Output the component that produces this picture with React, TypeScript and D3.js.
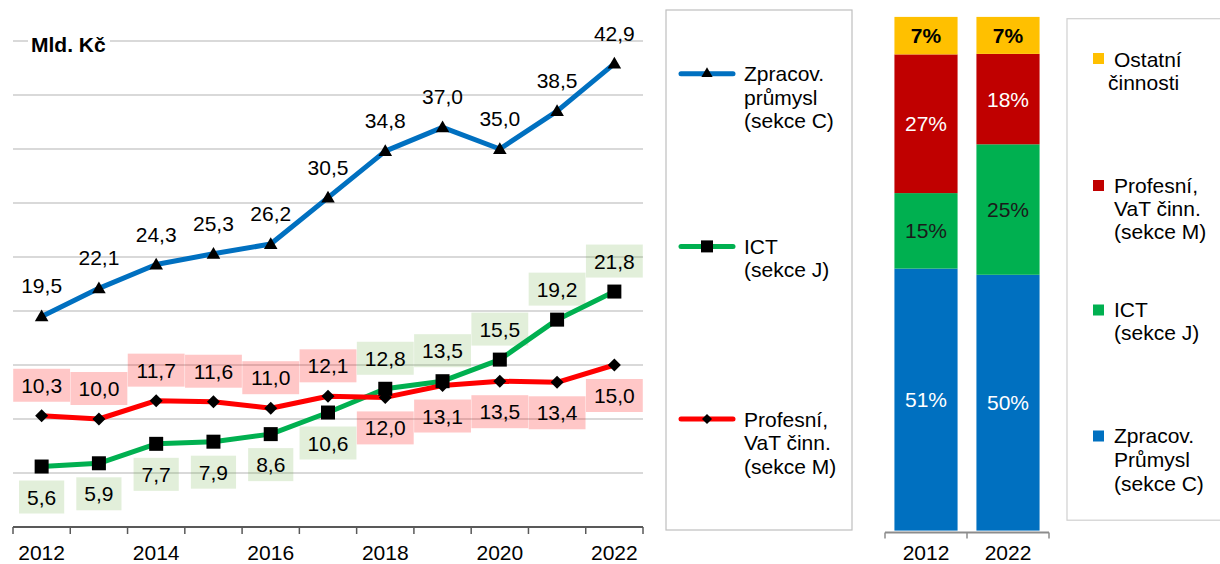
import React from "react";
import * as d3 from "d3";

const years = [2012, 2013, 2014, 2015, 2016, 2017, 2018, 2019, 2020, 2021, 2022];
const tickYears = [2012, 2014, 2016, 2018, 2020, 2022];
const manufacturing = [19.5, 22.1, 24.3, 25.3, 26.2, 30.5, 34.8, 37.0, 35.0, 38.5, 42.9];
const ict = [5.6, 5.9, 7.7, 7.9, 8.6, 10.6, 12.8, 13.5, 15.5, 19.2, 21.8];
const professional = [10.3, 10.0, 11.7, 11.6, 11.0, 12.1, 12.0, 13.1, 13.5, 13.4, 15.0];
const yGridValues = [5, 10, 15, 20, 25, 30, 35, 40, 45];

const shareYears = ["2012", "2022"];
const shareManufacturing = [51.0, 49.8];
const shareICT = [14.7, 25.4];
const shareProfessional = [27.0, 17.6];
const shareOther = [7.3, 7.2];

const FONT = '"Liberation Sans", Arial, Helvetica, sans-serif';
const FS = 21;

const fmt = (v: number) => v.toFixed(1).replace(".", ",");
const textW = (s: string) => {
  let w = 0;
  for (const ch of s) w += ch === "," ? 0.278 : 0.556;
  return w * FS;
};

export default function App() {
  const x = d3.scaleBand<number>().domain(years).range([13, 643]);
  const cx = (yr: number) => (x(yr) as number) + x.bandwidth() / 2;
  const y = d3.scaleLinear().domain([0, 45]).range([527, 41]);
  const line = d3
    .line<number>()
    .x((_, i) => cx(years[i]))
    .y((v) => y(v));

  const xb = d3.scaleBand<string>().domain(shareYears).range([885, 1049]).paddingInner(0.23).paddingOuter(0.115);
  const yb = d3.scaleLinear().domain([0, 100]).range([530.6, 16.9]);

  const stackData = shareYears.map((yr, i) => ({
    year: yr,
    c: shareManufacturing[i],
    j: shareICT[i],
    m: shareProfessional[i],
    o: shareOther[i],
  }));
  const keys = ["c", "j", "m", "o"];
  const stack = d3.stack<any>().keys(keys)(stackData);
  const segColors: Record<string, string> = { c: "#0070c0", j: "#00b050", m: "#c00000", o: "#ffc000" };
  const segText: Record<string, string> = { c: "#ffffff", j: "#1a1a1a", m: "#ffffff", o: "#000000" };

  const label = (key: string, v: number, i: number, dir: number, bg: string | null) => {
    const px = cx(years[i]);
    const py = y(v) + dir * 30.5;
    const s = fmt(v);
    const w = textW(s) + 16;
    return (
      <g key={key}>
        {bg && <rect x={px - w / 2} y={py - 16.5} width={w} height={33} fill={bg} />}
        <text x={px} y={py + 7.5} textAnchor="middle" fontSize={FS} fill="#000">
          {s}
        </text>
      </g>
    );
  };

  const triangle = d3.symbol().type(d3.symbolTriangle).size(80)();
  const square = d3.symbol().type(d3.symbolSquare).size(196)();
  const diamond = (s: number) => `M0,${-s}L${s},0L0,${s}L${-s},0Z`;

  return (
    <svg
      width={1220}
      height={564}
      style={{ position: "absolute", left: 0, top: 0, background: "#fff" }}
      fontFamily={FONT}
    >
      <rect width={1220} height={564} fill="#fff" />
      {yGridValues.map((g) => (
        <line key={g} x1={13} x2={643} y1={y(g)} y2={y(g)} stroke="#d9d9d9" strokeWidth={1.8} />
      ))}
      <rect x={28} y={30} width={82} height={24} fill="#fff" />
      <text x={31} y={52} fontSize={FS} fontWeight="bold">
        Mld. Kč
      </text>
      <line x1={13} x2={643} y1={527} y2={527} stroke="#595959" strokeWidth={2} />
      {years.map((yr) => (
        <line key={yr} x1={x(yr)} x2={x(yr)} y1={527} y2={534} stroke="#595959" strokeWidth={1.5} />
      ))}
      <line x1={643} x2={643} y1={527} y2={534} stroke="#595959" strokeWidth={1.5} />
      {tickYears.map((yr) => (
        <text key={yr} x={cx(yr)} y={559.5} textAnchor="middle" fontSize={FS}>
          {yr}
        </text>
      ))}

      {professional.map((v, i) => label("pl" + i, v, i, i <= 5 ? -1 : 1, "rgba(255,0,0,0.22)"))}
      {ict.map((v, i) => label("il" + i, v, i, i <= 5 ? 1 : -1, "rgba(112,173,71,0.2)"))}

      <path d={line(ict) as string} fill="none" stroke="#00b050" strokeWidth={5} strokeLinejoin="round" />
      <path d={line(professional) as string} fill="none" stroke="#ff0000" strokeWidth={5} strokeLinejoin="round" />
      <path d={line(manufacturing) as string} fill="none" stroke="#0070c0" strokeWidth={5} strokeLinejoin="round" />

      {ict.map((v, i) => (
        <path key={"is" + i} d={square as string} transform={`translate(${cx(years[i])},${y(v)})`} fill="#000" />
      ))}
      {professional.map((v, i) => (
        <path key={"pd" + i} d={diamond(6.5)} transform={`translate(${cx(years[i])},${y(v)})`} fill="#000" />
      ))}
      {manufacturing.map((v, i) => (
        <path key={"mt" + i} d={triangle as string} transform={`translate(${cx(years[i])},${y(v) + 1})`} fill="#000" />
      ))}
      {manufacturing.map((v, i) => label("ml" + i, v, i, -1, null))}

      {/* left legend */}
      <rect x={666} y={10} width={186} height={520} fill="none" stroke="#bfbfbf" strokeWidth={1.2} />
      <line x1={681} x2={733} y1={73.7} y2={73.7} stroke="#0070c0" strokeWidth={5} strokeLinecap="round" />
      <path d={d3.symbol().type(d3.symbolTriangle).size(55)() as string} transform="translate(707,73.7)" fill="#000" />
      <text fontSize={FS}>
        <tspan x={744} y={81}>Zpracov.</tspan>
        <tspan x={744} y={104.5}>průmysl</tspan>
        <tspan x={744} y={128}>(sekce C)</tspan>
      </text>
      <line x1={681} x2={733} y1={246.4} y2={246.4} stroke="#00b050" strokeWidth={5} strokeLinecap="round" />
      <rect x={701} y={240.4} width={12} height={12} fill="#000" />
      <text fontSize={FS}>
        <tspan x={744} y={253.7}>ICT</tspan>
        <tspan x={744} y={277.2}>(sekce J)</tspan>
      </text>
      <line x1={681} x2={733} y1={419} y2={419} stroke="#ff0000" strokeWidth={5} strokeLinecap="round" />
      <path d={diamond(5)} transform="translate(707,419)" fill="#000" />
      <text fontSize={FS}>
        <tspan x={744} y={426.5}>Profesní,</tspan>
        <tspan x={744} y={450.2}>VaT činn.</tspan>
        <tspan x={744} y={474}>(sekce M)</tspan>
      </text>

      {/* stacked bars */}
      {stack.map((layer) =>
        layer.map((d: any, i: number) => {
          const bx = xb(shareYears[i]) as number;
          const y0 = yb(d[0]);
          const y1 = yb(d[1]);
          const v = d[1] - d[0];
          return (
            <g key={layer.key + i}>
              <rect x={bx} y={y1} width={xb.bandwidth()} height={y0 - y1} fill={segColors[layer.key]} />
              <text
                x={bx + xb.bandwidth() / 2}
                y={(y0 + y1) / 2 + 7.5}
                textAnchor="middle"
                fontSize={FS}
                fontWeight={layer.key === "o" ? "bold" : "normal"}
                fill={segText[layer.key]}
              >
                {Math.round(v)}%
              </text>
            </g>
          );
        })
      )}
      <line x1={885} x2={1049} y1={532.5} y2={532.5} stroke="#8c8c8c" strokeWidth={2} />
      {[885, 967, 1049].map((tx) => (
        <line key={tx} x1={tx} x2={tx} y1={532.5} y2={538.5} stroke="#8c8c8c" strokeWidth={1.5} />
      ))}
      {shareYears.map((yr) => (
        <text key={yr} x={(xb(yr) as number) + xb.bandwidth() / 2} y={559.5} textAnchor="middle" fontSize={FS}>
          {yr}
        </text>
      ))}

      {/* right legend */}
      <rect x={1067} y={18.7} width={170} height={501.5} fill="none" stroke="#d0d0d0" strokeWidth={1.2} />
      <rect x={1093} y={53} width={11} height={11} fill="#ffc000" />
      <text fontSize={FS}>
        <tspan x={1114} y={66.5}>Ostatní</tspan>
        <tspan x={1108} y={89.5}>činnosti</tspan>
      </text>
      <rect x={1093} y={180} width={11} height={11} fill="#c00000" />
      <text fontSize={FS}>
        <tspan x={1114} y={192.5}>Profesní,</tspan>
        <tspan x={1114} y={215.8}>VaT činn.</tspan>
        <tspan x={1114} y={239}>(sekce M)</tspan>
      </text>
      <rect x={1093} y={304.5} width={11} height={11} fill="#00b050" />
      <text fontSize={FS}>
        <tspan x={1114} y={316.5}>ICT</tspan>
        <tspan x={1114} y={340}>(sekce J)</tspan>
      </text>
      <rect x={1093} y={430.5} width={11} height={11} fill="#0070c0" />
      <text fontSize={FS}>
        <tspan x={1114} y={442.5}>Zpracov.</tspan>
        <tspan x={1114} y={466.5}>Průmysl</tspan>
        <tspan x={1114} y={490.5}>(sekce C)</tspan>
      </text>
    </svg>
  );
}
